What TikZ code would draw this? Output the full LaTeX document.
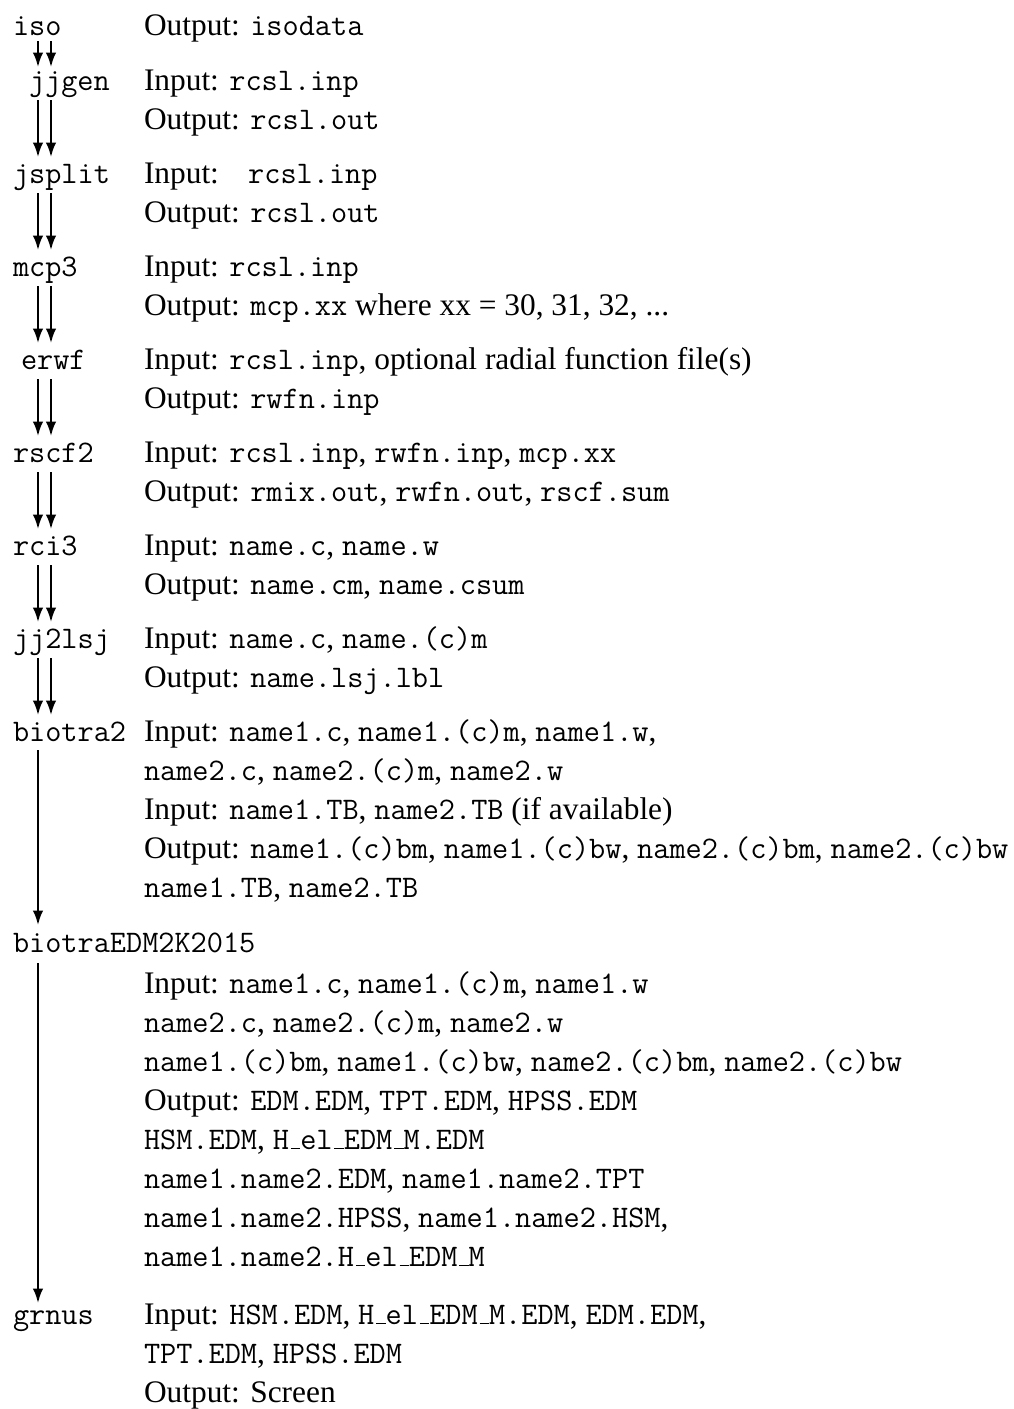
\documentclass[tikz,border=0pt]{standalone}
\usepackage{fontspec}
\setmainfont{Liberation Serif}
\usetikzlibrary{calc,arrows.meta}
\newcommand\us{\leavevmode\kern.06em\vbox{\hrule width.3em}}
\newcommand\tx[1]{\texttt{#1}}
\tikzset{
  ln/.style={anchor=base west, inner sep=0pt, outer sep=0pt},
  arr/.style={line width=0.8pt, -{Latex[length=5.8pt,width=4.2pt]}}
}
\begin{document}
\begin{tikzpicture}[x=0.4pt,y=-0.4pt,font=\fontsize{12.55}{14}\selectfont]
\useasboundingbox (0,0) rectangle (1014,1409);
\coordinate (xa) at (38,0);
\coordinate (xb) at (51,0);
% names
\node[ln] (iso) at (13,35) {\tx{iso}};
\node[ln] (jjgen) at (29,90) {\tx{jjgen}};
\node[ln] (jsplit) at (13,183) {\tx{jsplit}};
\node[ln] (mcp) at (13,276) {\tx{mcp3}};
\node[ln] (erwf) at (21,369) {\tx{erwf}};
\node[ln] (rscf) at (13,462) {\tx{rscf2}};
\node[ln] (rci) at (13,555) {\tx{rci3}};
\node[ln] (jjl) at (13,648) {\tx{jj2lsj}};
\node[ln] (bio) at (13,741) {\tx{biotra2}};
\node[ln] (edm) at (13,952) {\tx{biotraEDM2K2015}};
\node[ln] (grn) at (13,1324) {\tx{grnus}};
% texts
\node[ln] (t1) at (144,35) {Output: \tx{isodata}};
\node[ln] (t2) at (144,90) {Input: \tx{rcsl.inp}};
\node[ln] (t3) at (144,129) {Output: \tx{rcsl.out}};
\node[ln] (t4) at (144,183) {Input:\hspace{0.6em} \tx{rcsl.inp}};
\node[ln] (t5) at (144,222) {Output: \tx{rcsl.out}};
\node[ln] (t6) at (144,276) {Input: \tx{rcsl.inp}};
\node[ln] (t7) at (144,315) {Output: \tx{mcp.xx} where xx = 30, 31, 32, ...};
\node[ln] (t8) at (144,369) {Input: \tx{rcsl.inp}, optional radial function file(s)};
\node[ln] (t9) at (144,408) {Output: \tx{rwfn.inp}};
\node[ln] (t10) at (144,462) {Input: \tx{rcsl.inp}, \tx{rwfn.inp}, \tx{mcp.xx}};
\node[ln] (t11) at (144,501) {Output: \tx{rmix.out}, \tx{rwfn.out}, \tx{rscf.sum}};
\node[ln] (t12) at (144,555) {Input: \tx{name.c}, \tx{name.w}};
\node[ln] (t13) at (144,594) {Output: \tx{name.cm}, \tx{name.csum}};
\node[ln] (t14) at (144,648) {Input: \tx{name.c}, \tx{name.(c)m}};
\node[ln] (t15) at (144,687) {Output: \tx{name.lsj.lbl}};
\node[ln] (t16) at (144,741) {Input: \tx{name1.c}, \tx{name1.(c)m}, \tx{name1.w},};
\node[ln] (t17) at (144,780) {\tx{name2.c}, \tx{name2.(c)m}, \tx{name2.w}};
\node[ln] (t18) at (144,819) {Input: \tx{name1.TB}, \tx{name2.TB} (if available)};
\node[ln] (t19) at (144,858) {Output: \tx{name1.(c)bm}, \tx{name1.(c)bw}, \tx{name2.(c)bm}, \tx{name2.(c)bw}};
\node[ln] (t20) at (144,897) {\tx{name1.TB}, \tx{name2.TB}};
\node[ln] (t21) at (144,993) {Input: \tx{name1.c}, \tx{name1.(c)m}, \tx{name1.w}};
\node[ln] (t22) at (144,1032) {\tx{name2.c}, \tx{name2.(c)m}, \tx{name2.w}};
\node[ln] (t23) at (144,1071) {\tx{name1.(c)bm}, \tx{name1.(c)bw}, \tx{name2.(c)bm}, \tx{name2.(c)bw}};
\node[ln] (t24) at (144,1110) {Output: \tx{EDM.EDM}, \tx{TPT.EDM}, \tx{HPSS.EDM}};
\node[ln] (t25) at (144,1149) {\tx{HSM.EDM}, \tx{H\us el\us EDM\us M.EDM}};
\node[ln] (t26) at (144,1188) {\tx{name1.name2.EDM}, \tx{name1.name2.TPT}};
\node[ln] (t27) at (144,1227) {\tx{name1.name2.HPSS}, \tx{name1.name2.HSM},};
\node[ln] (t28) at (144,1266) {\tx{name1.name2.H\us el\us EDM\us M}};
\node[ln] (t29) at (144,1324) {Input: \tx{HSM.EDM}, \tx{H\us el\us EDM\us M.EDM}, \tx{EDM.EDM},};
\node[ln] (t30) at (144,1363) {\tx{TPT.EDM}, \tx{HPSS.EDM}};
\node[ln] (t31) at (144,1402) {Output: Screen};
% double arrows
\foreach \a/\b/\s/\e in {iso/jjgen/6/23, jjgen/jsplit/10/26, jsplit/mcp/10/26, mcp/erwf/10/26, erwf/rscf/10/26, rscf/rci/10/26, rci/jjl/10/26, jjl/bio/10/26}{
  \draw[arr] ($(\a.base -| xa)+(0,\s)$) -- ($(\b.base -| xa)+(0,-\e)$);
  \draw[arr] ($(\a.base -| xb)+(0,\s)$) -- ($(\b.base -| xb)+(0,-\e)$);
}
% single arrows
\draw[arr] ($(bio.base -| xa)+(0,9)$) -- ($(edm.base -| xa)+(0,-27)$);
\draw[arr] ($(edm.base -| xa)+(0,11)$) -- ($(grn.base -| xa)+(0,-21)$);
\end{tikzpicture}
\end{document}
